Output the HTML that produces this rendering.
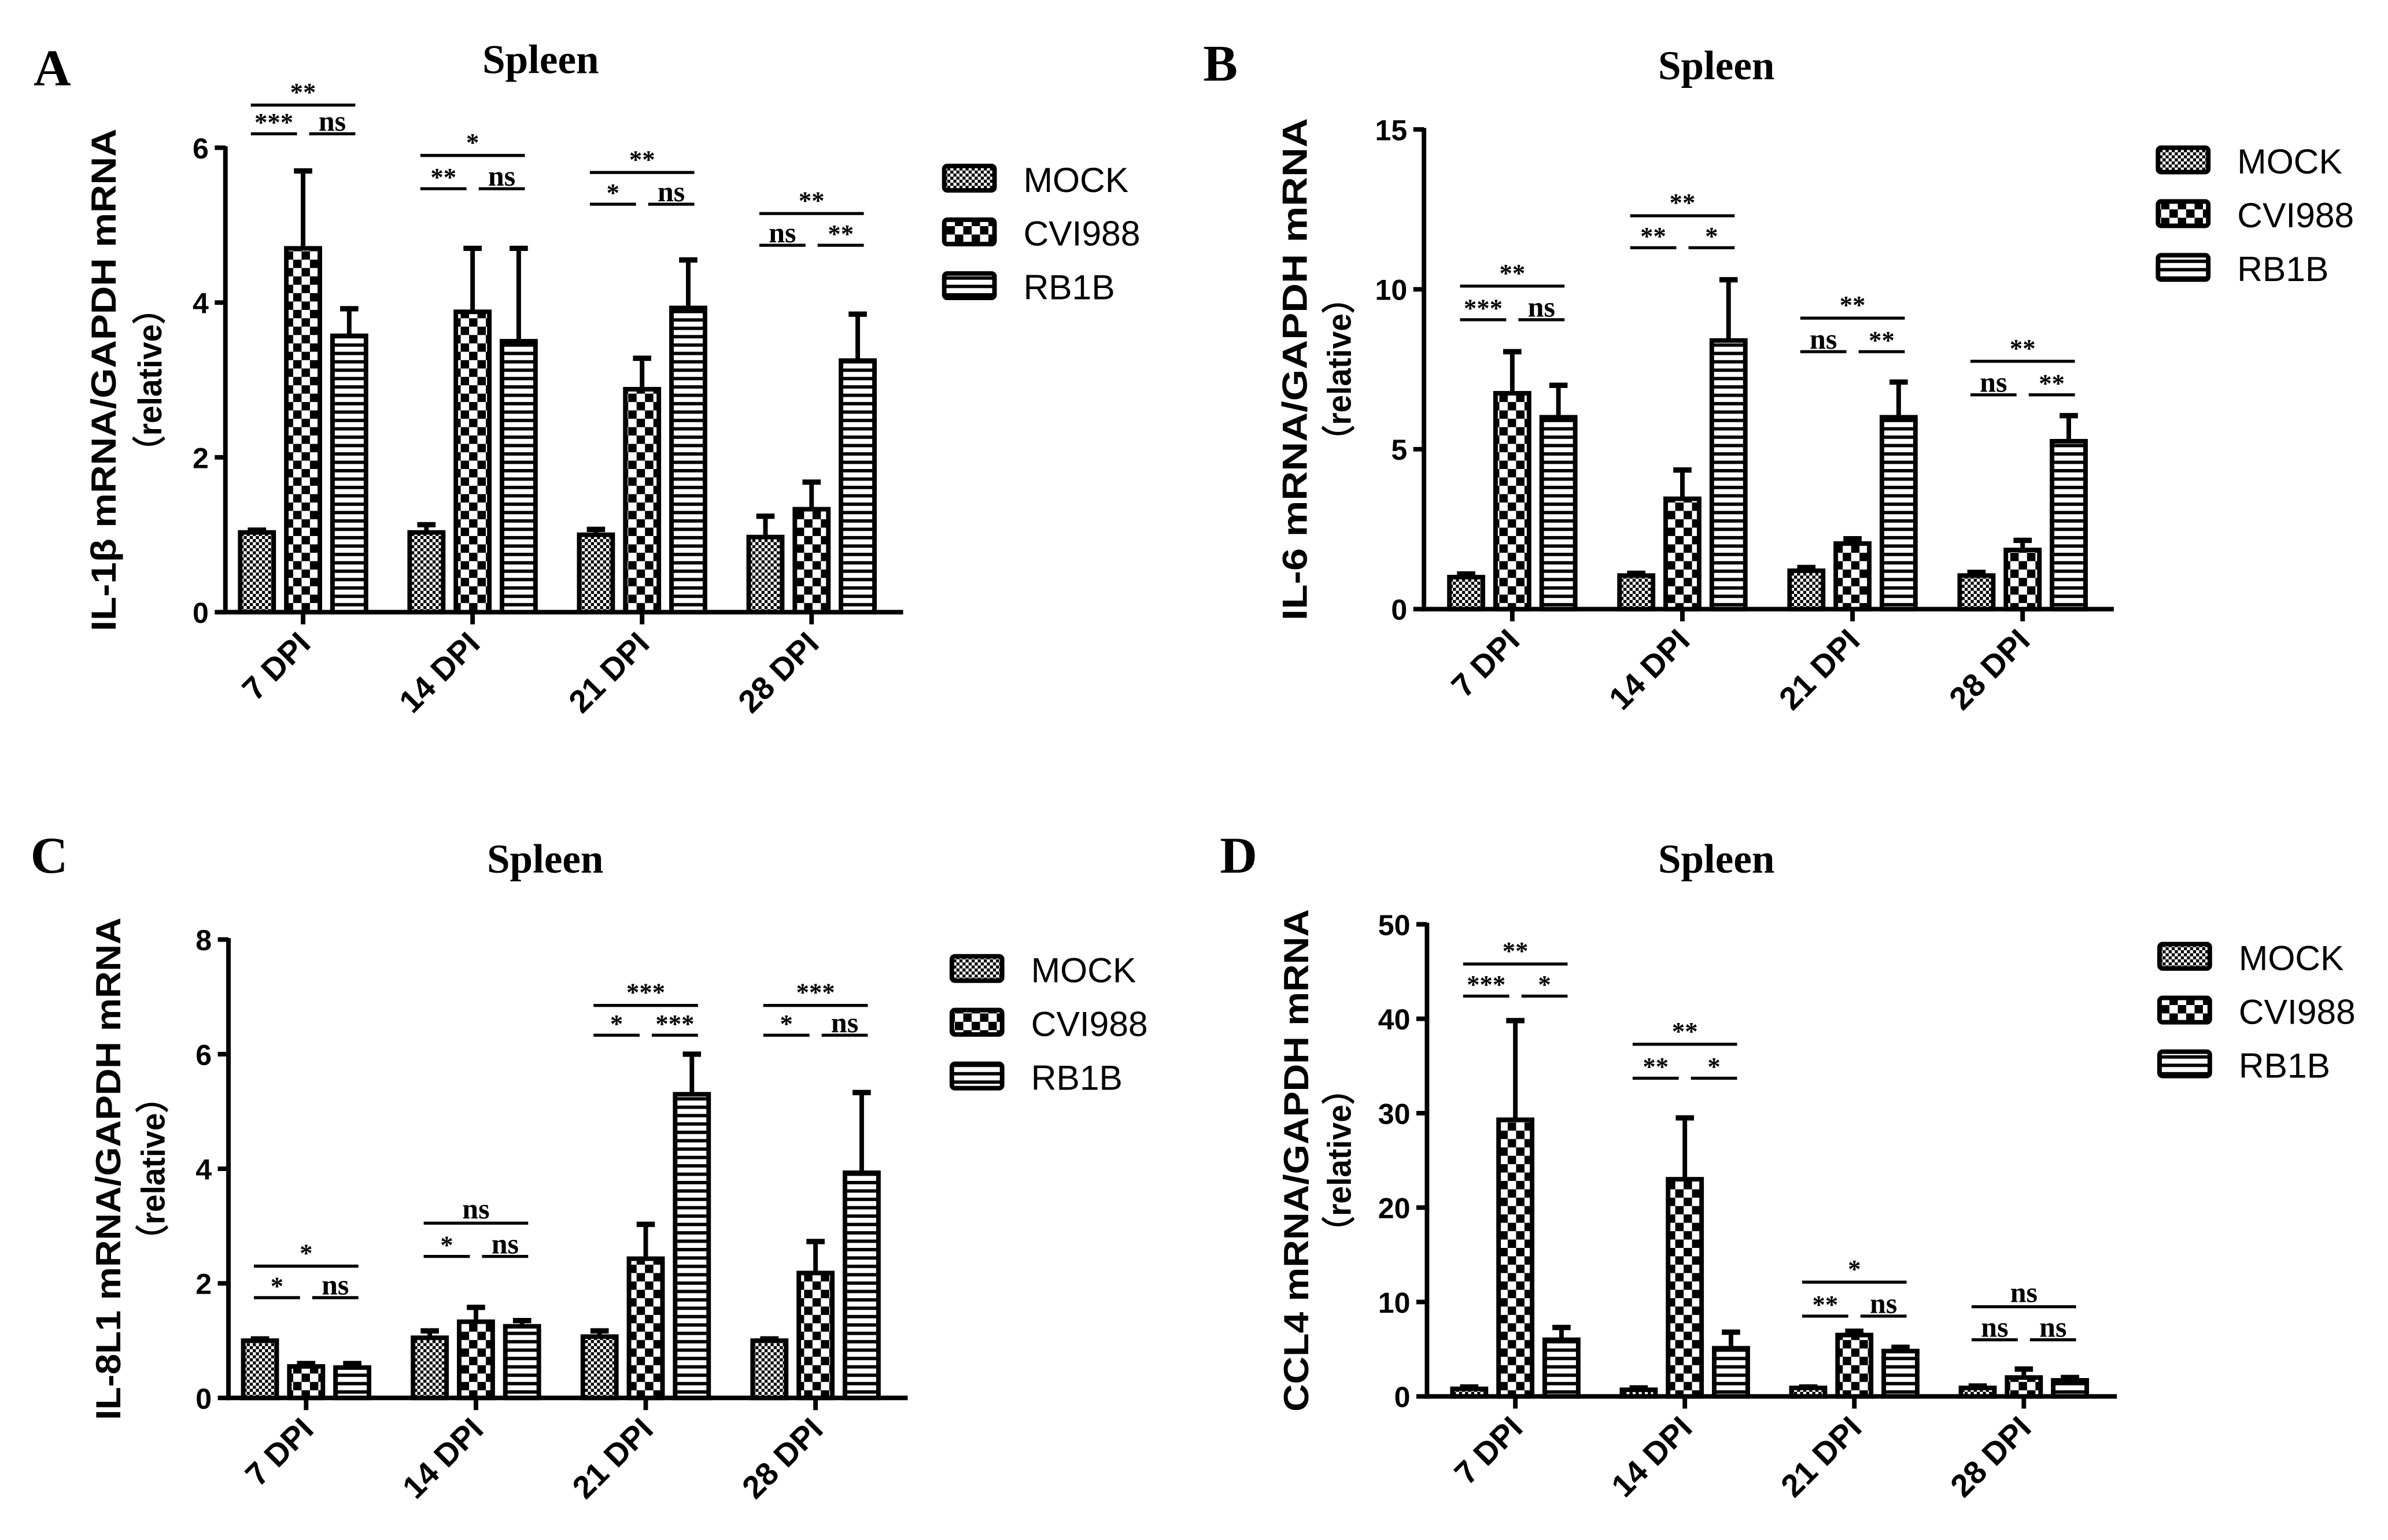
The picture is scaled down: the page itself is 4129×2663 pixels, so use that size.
<!DOCTYPE html>
<html><head><meta charset="utf-8"><style>
html,body{margin:0;padding:0;background:#fff}
svg{display:block}
text{font-family:"Liberation Sans",Arial,sans-serif}
.serif{font-family:"Liberation Serif","Times New Roman",serif;font-weight:bold}
</style></head><body>
<svg id="fig" width="4129" height="2663" viewBox="0 0 1568 1011.3" xmlns="http://www.w3.org/2000/svg">
<defs>
<pattern id="pMock" patternUnits="userSpaceOnUse" width="4" height="4"><rect width="4" height="4" fill="#fff"/><rect width="2" height="2" fill="#000"/><rect x="2" y="2" width="2" height="2" fill="#000"/></pattern>
<pattern id="pCvi" patternUnits="userSpaceOnUse" width="11" height="11"><rect width="11" height="11" fill="#fff"/><rect width="5.5" height="5.5" fill="#000"/><rect x="5.5" y="5.5" width="5.5" height="5.5" fill="#000"/></pattern>
<pattern id="pRb" patternUnits="userSpaceOnUse" width="6" height="5.5"><rect width="6" height="5.5" fill="#fff"/><rect y="0" width="6" height="2.2" fill="#000"/></pattern>
</defs>
</svg>
<script>
// ---- data ----
const categories = ["7 DPI","14 DPI","21 DPI","28 DPI"];
const seriesNames = ["MOCK","CVI988","RB1B"];
const aMock=[1.03,1.03,1.0,0.97], aCvi=[4.7,3.88,2.88,1.33], aRb=[3.57,3.5,3.93,3.25];
const aMockErr=[0.03,0.1,0.07,0.27], aCviErr=[1.0,0.82,0.4,0.35], aRbErr=[0.35,1.2,0.62,0.6];
const bMock=[1.0,1.05,1.2,1.05], bCvi=[6.75,3.45,2.05,1.85], bRb=[6.0,8.4,6.0,5.25];
const bMockErr=[0.1,0.07,0.1,0.1], bCviErr=[1.3,0.9,0.15,0.3], bRbErr=[1.0,1.9,1.1,0.8];
const cMock=[1.0,1.05,1.07,1.0], cCvi=[0.55,1.33,2.43,2.18], cRb=[0.53,1.25,5.3,3.93];
const cMockErr=[0.03,0.12,0.1,0.03], cCviErr=[0.05,0.25,0.6,0.55], cRbErr=[0.07,0.1,0.7,1.4];
const dMock=[0.8,0.7,0.9,0.9], dCvi=[29.3,23,6.5,2.0], dRb=[6.0,5.1,4.8,1.7];
const dMockErr=[0.2,0.2,0.1,0.2], dCviErr=[10.5,6.5,0.4,0.9], dRbErr=[1.3,1.7,0.4,0.3];
const aTicks=[0,2,4,6], bTicks=[0,5,10,15], cTicks=[0,2,4,6,8], dTicks=[0,10,20,30,40,50];
const aSig=[["**","***","ns"],["*","**","ns"],["**","*","ns"],["**","ns","**"]];
const bSig=[["**","***","ns"],["**","**","*"],["**","ns","**"],["**","ns","**"]];
const cSig=[["*","*","ns"],["ns","*","ns"],["***","*","***"],["***","*","ns"]];
const dSig=[["**","***","*"],["**","**","*"],["*","**","ns"],["ns","ns","ns"]];
const aSigLevel=[[6.55,6.18],[5.9,5.47],[5.68,5.27],[5.15,4.74]];
const bSigLevel=[[10.1,9.05],[12.3,11.3],[9.1,8.05],[7.75,6.7]];
const cSigLevel=[[2.3,1.75],[3.05,2.47],[6.85,6.33],[6.85,6.33]];
const dSigLevel=[[45.8,42.4],[37.3,33.7],[12.1,8.5],[9.5,6.0]];

const NS="http://www.w3.org/2000/svg";
const svg=document.getElementById('fig');
function el(tag,attrs,parent,txt){const e=document.createElementNS(NS,tag);for(const k in attrs)e.setAttribute(k,attrs[k]);if(txt!==undefined)e.textContent=txt;(parent||svg).appendChild(e);return e;}

const panels=[
 {key:"a",letter:"A",lx:22,ly:56,tx:355,ty:48,axX:148,y0:402,yTop:97,xEnd:593,ymax:6,g0:199,gStep:111.3,ylab:"IL-1β mRNA/GAPDH mRNA",ylabX:76,rx:106,legX:620,legY:117,
  vals:[aMock,aCvi,aRb],errs:[aMockErr,aCviErr,aRbErr],ticks:aTicks,sig:aSig,lev:aSigLevel},
 {key:"b",letter:"B",lx:790,ly:53,tx:1127,ty:52,axX:935,y0:400,yTop:85,xEnd:1388,ymax:15,g0:993,gStep:111.7,ylab:"IL-6 mRNA/GAPDH mRNA",ylabX:858,rx:887,legX:1417,legY:105,
  vals:[bMock,bCvi,bRb],errs:[bMockErr,bCviErr,bRbErr],ticks:bTicks,sig:bSig,lev:bSigLevel},
 {key:"c",letter:"C",lx:20,ly:573,tx:358,ty:573,axX:150,y0:918,yTop:617,xEnd:596,ymax:8,g0:201,gStep:111.5,ylab:"IL-8L1 mRNA/GAPDH mRNA",ylabX:79,rx:108,legX:625,legY:636,
  vals:[cMock,cCvi,cRb],errs:[cMockErr,cCviErr,cRbErr],ticks:cTicks,sig:cSig,lev:cSigLevel},
 {key:"d",letter:"D",lx:801,ly:573,tx:1127,ty:573,axX:937,y0:917,yTop:607,xEnd:1390,ymax:50,g0:995,gStep:111.3,ylab:"CCL4 mRNA/GAPDH mRNA",ylabX:859,rx:887,legX:1418,legY:628,
  vals:[dMock,dCvi,dRb],errs:[dMockErr,dCviErr,dRbErr],ticks:dTicks,sig:dSig,lev:dSigLevel}
];
const fills=["url(#pMock)","url(#pCvi)","url(#pRb)"];
const BW=22, BS=30.3;

panels.forEach(p=>{
 const g=el('g',{});
 
 
 const yS=v=>p.y0-(v/p.ymax)*(p.y0-p.yTop);
 const xS=(ci,si)=>p.g0+ci*p.gStep+(si-1)*BS;
 const L=el('text',{x:p.lx,y:p.ly,'font-size':34,class:'serif'},g,p.letter);
 
 
 const T=el('text',{x:p.tx,y:p.ty,'font-size':27,class:'serif','text-anchor':'middle'},g,"Spleen");
 
 
 const ya=el('line',{x1:p.axX,y1:p.yTop-1,x2:p.axX,y2:p.y0+1.5,stroke:'#000','stroke-width':3},g);
 
 
 const xa=el('line',{x1:p.axX-1.5,y1:p.y0,x2:p.xEnd,y2:p.y0,stroke:'#000','stroke-width':3},g);
 
 
 p.ticks.forEach(t=>{
  el('line',{x1:p.axX-7,y1:yS(t),x2:p.axX,y2:yS(t),stroke:'#000','stroke-width':3},g);
  const tl=el('text',{x:p.axX-11,y:yS(t)+7,'font-size':19,'font-weight':'bold','text-anchor':'end'},g,String(t));
  
  
 });
 const yl=el('text',{transform:`translate(${p.ylabX},${(p.y0+p.yTop)/2}) rotate(-90)`,'font-size':23,'font-weight':'bold','text-anchor':'middle',textLength:330,lengthAdjust:'spacingAndGlyphs'},g,p.ylab);
 
 
 const yr=el('text',{transform:`translate(${p.rx},${(p.y0+p.yTop)/2}) rotate(-90)`,'font-size':22,'font-weight':'bold','text-anchor':'middle',textLength:115,lengthAdjust:'spacingAndGlyphs','font-family':'"Liberation Sans","Noto Sans CJK SC",sans-serif'},g,"（relative）");
 
 
 categories.forEach((c,ci)=>{
  const cx=xS(ci,1);
  el('line',{x1:cx,y1:p.y0,x2:cx,y2:p.y0+8,stroke:'#000','stroke-width':3},g);
  const xl=el('text',{transform:`translate(${cx+6},${p.y0+22}) rotate(-45)`,'font-size':21,'font-weight':'bold','text-anchor':'end'},g,c);
  
  
  for(let si=0;si<3;si++){
   const v=p.vals[si][ci], e=p.errs[si][ci], bx=xS(ci,si);
   const top=yS(v), et=yS(v+e);
   const eb=el('line',{x1:bx,y1:top,x2:bx,y2:et,stroke:'#000','stroke-width':3},g);
   
   
   el('line',{x1:bx-6,y1:et,x2:bx+6,y2:et,stroke:'#000','stroke-width':3.5},g);
   const r=el('rect',{x:bx-BW/2,y:top,width:BW,height:p.y0-top,fill:fills[si],stroke:'#000','stroke-width':3},g);
   
   
  }
  const s=p.sig[ci], lv=p.lev[ci];
  const x0=xS(ci,0)-4, x2=xS(ci,2)+4, xm=(x0+x2)/2;
  const yTopL=yS(lv[0]), yLow=yS(lv[1]);
  const sl=el('line',{x1:x0,y1:yTopL,x2:x2,y2:yTopL,stroke:'#000','stroke-width':2},g);
  
  
  el('text',{x:xm,y:yTopL-3,'font-size':s[0]==='ns'?19:17,class:'serif','text-anchor':'middle'},g,s[0]);
  [[x0,xm-4,s[1]],[xm+4,x2,s[2]]].forEach(([a,b,t])=>{
   el('line',{x1:a,y1:yLow,x2:b,y2:yLow,stroke:'#000','stroke-width':2},g);
   const st=el('text',{x:(a+b)/2,y:yLow-2,'font-size':t==='ns'?19:17,class:'serif','text-anchor':'middle'},g,t);
   
   
  });
 });
 seriesNames.forEach((n,si)=>{
  const yy=p.legY+si*35.3;
  const sw=el('rect',{x:p.legX,y:yy-8,width:33,height:16,fill:fills[si],stroke:'#000','stroke-width':3,rx:2},g);
  
  
  const lt=el('text',{x:p.legX+52,y:yy+9,'font-size':23},g,n);
  
  
 });
});
</script>
</body></html>
